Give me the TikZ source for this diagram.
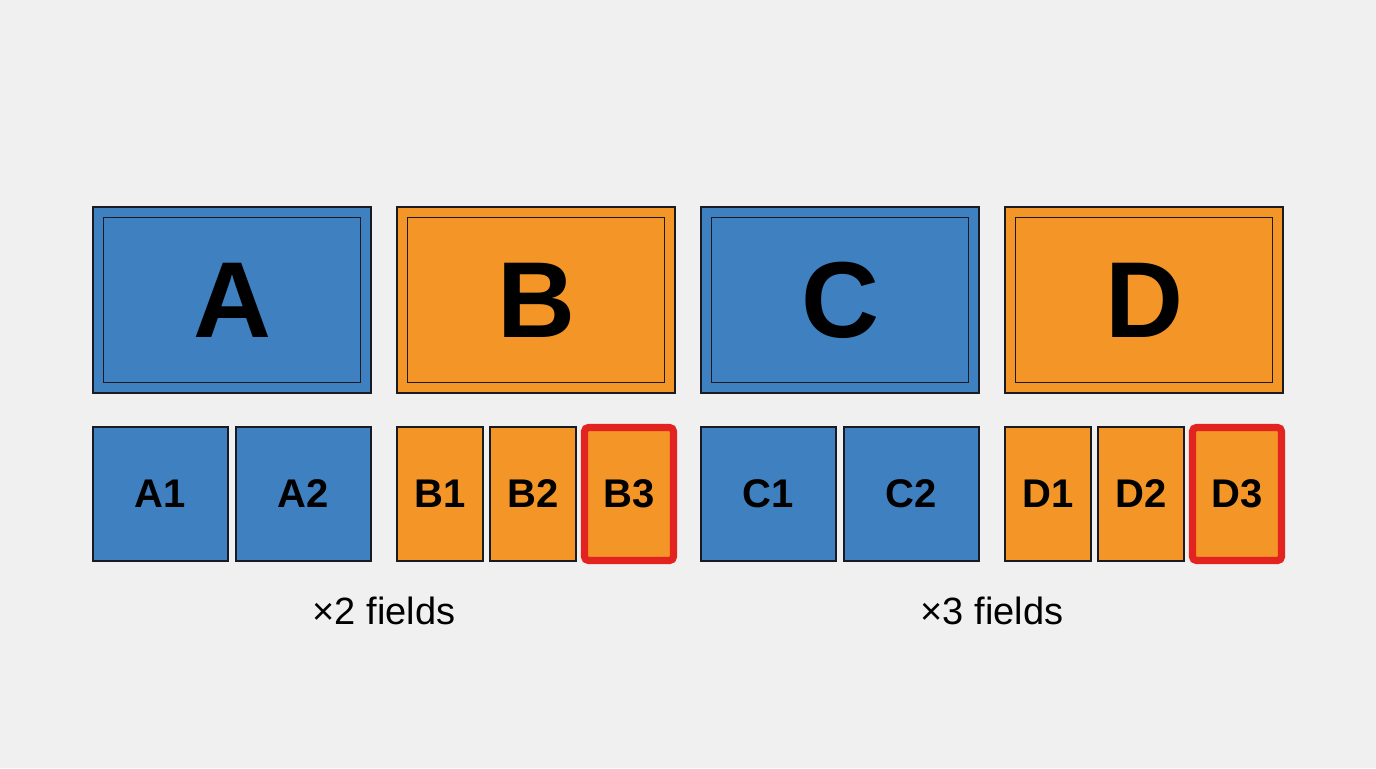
\documentclass[tikz,border=0pt]{standalone}
\usepackage{fontspec}
\setmainfont{Liberation Sans}
\definecolor{bg}{HTML}{F0F0F0}
\definecolor{cblue}{HTML}{3E80C0}
\definecolor{corange}{HTML}{F39627}
\definecolor{cred}{HTML}{E2231F}
\definecolor{edge}{HTML}{1A1A22}
\begin{document}
\begin{tikzpicture}[x=0.5pt,y=-0.5pt,
  bigbox/.style={draw=edge,line width=0.8pt},
  inner/.style={draw=edge,line width=0.6pt},
  small/.style={draw=edge,line width=0.7pt},
  bigtxt/.style={font=\fontsize{54}{54}\selectfont\bfseries},
  smalltxt/.style={font=\fontsize{20}{20}\selectfont\bfseries},
  caption/.style={font=\fontsize{19}{19}\selectfont},
  hl/.style={draw=cred,line width=3.6pt,rounded corners=2pt}]
\fill[bg] (0,0) rectangle (1376,768);
\useasboundingbox (0,0) rectangle (1376,768);
% top boxes
\foreach \x/\c/\l in {93/cblue/A,397/corange/B,701/cblue/C,1005/corange/D}{
  \filldraw[bigbox,fill=\c] (\x,207) rectangle ++(278,186);
  \draw[inner] (\x+10.5,217.5) rectangle ++(257,165);
  \node[bigtxt] (top\l) at (\x+139,300) {\l};
}
% bottom A, C
\foreach \x/\c/\l in {93/cblue/A1,236/cblue/A2,701/cblue/C1,844/cblue/C2}{
  \filldraw[small,fill=\c] (\x,427) rectangle ++(135,134);
  \node[smalltxt] (n\l) at (\x+67.5,494) {\l};
}
% bottom B, D
\foreach \x/\l in {397/B1,490/B2,1005/D1,1098/D2}{
  \filldraw[small,fill=corange] (\x,427) rectangle ++(86,134);
  \node[smalltxt] (n\l) at (\x+43,494) {\l};
}
\foreach \x/\l in {581/B3,1189/D3}{
  \fill[corange] (\x+3,427) rectangle ++(90,134);
  \draw[hl] (\x+3.5,427.5) rectangle ++(89,133);
  \node[smalltxt] (n\l) at (\x+48,494) {\l};
}
\node[caption] (cap1) at (384,611) {×2 fields};
\node[caption] (cap2) at (992,611) {×3 fields};
\end{tikzpicture}
\end{document}
